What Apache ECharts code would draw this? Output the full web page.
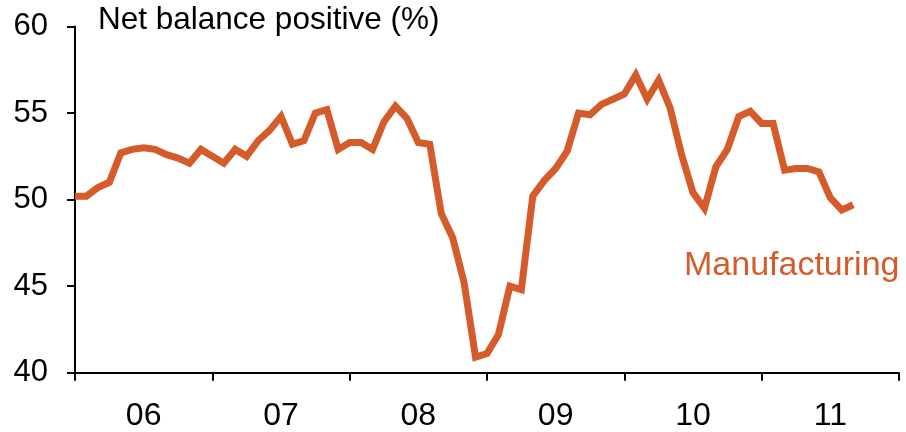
<!DOCTYPE html>
<html>
<head>
<meta charset="utf-8">
<script src="https://cdn.jsdelivr.net/npm/echarts@6/dist/echarts.min.js"></script>
<style>
  html, body { margin: 0; padding: 0; background: #fff; }
  #chart { width: 906px; height: 432px; }
</style>
</head>
<body>
<div id="chart"></div>
<script>
// months, Dec 2005 .. Dec 2011
var months = [
  '2005-12',
  '2006-01', '2006-02', '2006-03', '2006-04', '2006-05', '2006-06', '2006-07', '2006-08', '2006-09', '2006-10', '2006-11', '2006-12',
  '2007-01', '2007-02', '2007-03', '2007-04', '2007-05', '2007-06', '2007-07', '2007-08', '2007-09', '2007-10', '2007-11', '2007-12',
  '2008-01', '2008-02', '2008-03', '2008-04', '2008-05', '2008-06', '2008-07', '2008-08', '2008-09', '2008-10', '2008-11', '2008-12',
  '2009-01', '2009-02', '2009-03', '2009-04', '2009-05', '2009-06', '2009-07', '2009-08', '2009-09', '2009-10', '2009-11', '2009-12',
  '2010-01', '2010-02', '2010-03', '2010-04', '2010-05', '2010-06', '2010-07', '2010-08', '2010-09', '2010-10', '2010-11', '2010-12',
  '2011-01', '2011-02', '2011-03', '2011-04', '2011-05', '2011-06', '2011-07', '2011-08', '2011-09', '2011-10', '2011-11', '2011-12'
];

var yearLabels = ['06', '07', '08', '09', '10', '11'];

var manufacturing = [
  50.2,
  50.2, 50.7, 51.0, 52.7, 52.9, 53.0, 52.9, 52.6, 52.4, 52.1, 52.9, 52.5,
  52.1, 52.9, 52.5, 53.4, 54.0, 54.8, 53.2, 53.4, 55.0, 55.2, 52.9, 53.3,
  53.3, 52.9, 54.5, 55.4, 54.7, 53.3, 53.2, 49.2, 47.8, 45.2, 40.9, 41.1,
  42.2, 45.0, 44.8, 50.2, 51.1, 51.8, 52.8, 55.0, 54.9, 55.5, 55.8, 56.1,
  57.2, 55.8, 56.9, 55.3, 52.6, 50.4, 49.5, 51.9, 52.9, 54.8, 55.1, 54.4,
  54.4, 51.7, 51.8, 51.8, 51.6, 50.1, 49.4, 49.7
];

var lineColor = '#D65B2B';
var font = 'Liberation Sans, Arial, sans-serif';

var chart = echarts.init(document.getElementById('chart'), null, { renderer: 'canvas' });

var option = {
  animation: false,
  backgroundColor: '#fff',
  grid: {
    left: 75,
    right: 7,
    top: 26.5,
    bottom: 59.3
  },
  xAxis: {
    type: 'category',
    data: months,
    boundaryGap: false,
    axisLine: { onZero: false, lineStyle: { color: '#000', width: 2 } },
    axisTick: {
      show: true,
      length: 8,
      lineStyle: { color: '#000', width: 2 },
      interval: function (index) { return index % 12 === 0; }
    },
    axisLabel: {
      margin: 27,
      color: '#000',
      fontSize: 32,
      fontFamily: font,
      interval: function (index) { return index % 12 === 6; },
      formatter: function (value, index) { return yearLabels[Math.floor(index / 12)]; }
    },
    splitLine: { show: false }
  },
  yAxis: {
    type: 'value',
    min: 40,
    max: 60,
    interval: 5,
    axisLine: { show: true, lineStyle: { color: '#000', width: 2 } },
    axisTick: { show: true, length: 8, lineStyle: { color: '#000', width: 2 } },
    axisLabel: {
      margin: 27,
      color: '#000',
      fontSize: 31,
      fontFamily: font
    },
    splitLine: { show: false }
  },
  graphic: [
    {
      type: 'text',
      left: 98,
      top: 4,
      style: {
        text: 'Net balance positive (%)',
        fill: '#000',
        font: '31.5px ' + font
      }
    },
    {
      type: 'text',
      left: 684,
      top: 249,
      style: {
        text: 'Manufacturing',
        fill: lineColor,
        font: '34px ' + font
      }
    }
  ],
  series: [
    {
      name: 'Manufacturing',
      type: 'line',
      data: manufacturing,
      symbol: 'none',
      smooth: false,
      lineStyle: { color: lineColor, width: 7, cap: 'butt', join: 'miter' }
    }
  ]
};

chart.setOption(option);
</script>
</body>
</html>
